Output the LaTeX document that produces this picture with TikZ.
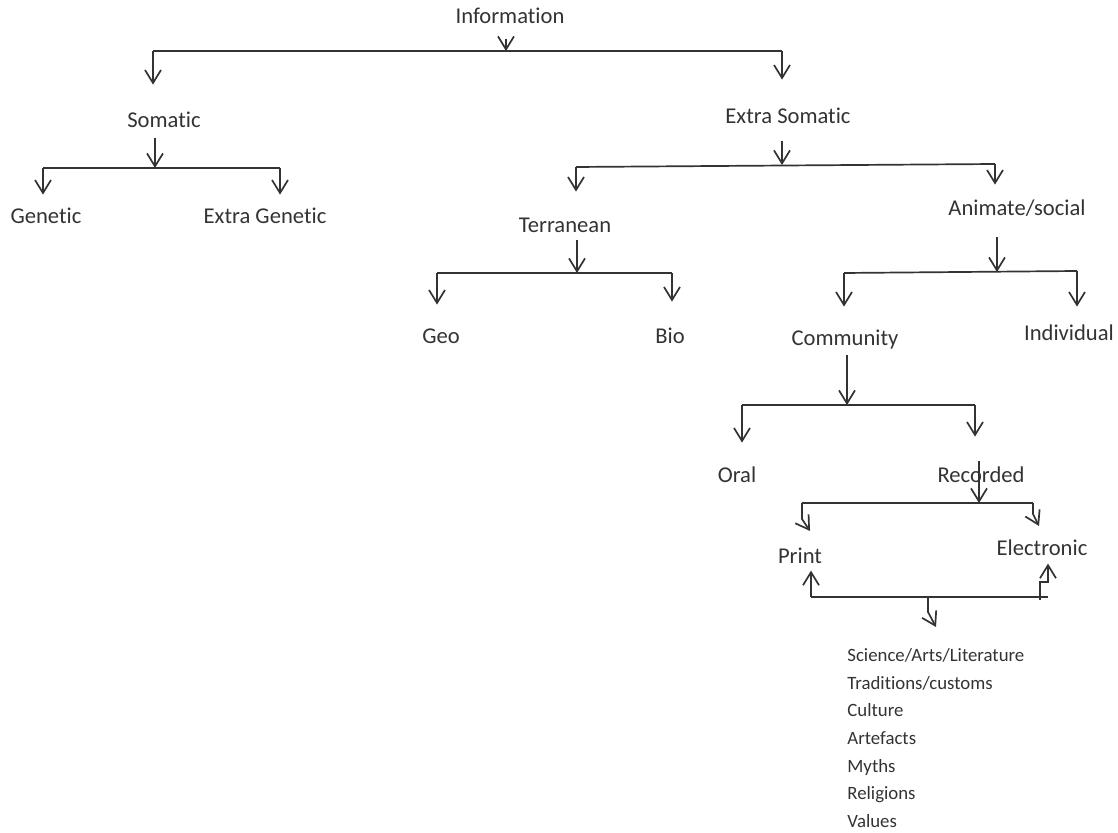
\documentclass[tikz,border=0pt]{standalone}
\usepackage{fontspec}
\setmainfont{Carlito}[Ligatures=CommonOff]
\usepackage{tikz}
\usetikzlibrary{arrows.meta,positioning}
\definecolor{ink}{HTML}{333333}

\begin{document}
\begin{tikzpicture}
 [x=0.5pt,y=-0.5pt,
 term/.style={
  font=\fontsize{11.3}{13}\selectfont,
  text=ink,
  inner sep=0pt,
  text height=7.9pt, % fixed box, so north/south are alike
  text depth=2.3pt},
 itemlist/.style={
  font=\fontsize{9.4}{13.85}\selectfont,
  text=ink,
  inner sep=0pt,
  align=left,
  anchor=north west},
 bar/.style={draw=ink,line width=0.85pt},
 tip/.style={bar,-{Straight Barb[length=6.5pt,width=8pt]}}]
\useasboundingbox (0,0) rectangle (1118,833);
\node (info) [term] at (510,18) {Information};
\node (som) [term] at (164,122) {Somatic};
\node (exsom) [term] at (788,118) {Extra Somatic};
\node (gen) [term] at (46,218) {Genetic};
\node (exgen) [term] at (265,218) {Extra Genetic};
\node (terr) [term] at (565,227) {Terranean};
\node (anim) [term] at (1017,210) {Animate/social};
\node (geo) [term] at (441,338) {Geo};
\node (bio) [term] at (670,338) {Bio};
\node (comm) [term] at (845,340) {Community};
\node (indiv) [term] at (1069,335) {Individual};
\node (oral) [term] at (737,477) {Oral};
\node (rec) [term] at (981,477) {Recorded};
\node (print) [term] at (800,558) {Print};
\node (elec) [term] at (1042,550) {Electronic};
\node (topics) [itemlist] at (847,648) {Science/Arts/Literature\\ Traditions/customs\\ Culture\\ Artefacts\\ Myths\\ Religions\\ Values};
% bars
\coordinate (i0) at (506,51); \coordinate (il) at (153,51); \coordinate (ir) at (782,51);
\coordinate (s0) at (155,168); \coordinate (sl) at (43,168); \coordinate (sr) at (280,168);
\coordinate (e0) at (782,165); \coordinate (el) at (576,167); \coordinate (er) at (995,164);
\coordinate (t0) at (577,273); \coordinate (tl) at (437,273); \coordinate (tr) at (672,273);
\coordinate (a0) at (997,272); \coordinate (al) at (844,273); \coordinate (ar) at (1077,271);
\coordinate (c0) at (847,405); \coordinate (cl) at (742,405); \coordinate (cr) at (975,405);
\coordinate (r0) at (979,503); \coordinate (rl) at (802,503); \coordinate (rr) at (1033,503);
\coordinate (p0) at (928,597); \coordinate (pl) at (811,597); \coordinate (pr) at (1048,597);
\path[bar] (il) -- (ir);
\path[bar] (sl) -- (sr);
\path[bar] (el) -- (er);
\path[bar] (tl) -- (tr);
\path[bar] (al) -- (ar);
\path[bar] (cl) -- (cr);
\path[bar] (rl) -- (rr);
\path[bar] (pl) -- (pr);
% parent to bar
\draw[tip,shorten <=5pt] (i0 |- info.south) -- (i0);
\draw[tip,shorten <=2.5pt] (s0 |- som.south) -- (s0);
\draw[tip,shorten <=6pt] (e0 |- exsom.south) -- (e0);
\draw[tip,shorten <=1.4pt] (t0 |- terr.south) -- (t0);
\draw[tip,shorten <=8.4pt] (a0 |- anim.south) -- (a0);
\draw[tip,shorten <=2.4pt] (c0 |- comm.south) -- (c0);
\draw[tip,shorten <=-2.5pt] (r0 |- rec.north) -- (r0);
% bar to child
\draw[tip,shorten >=13.4pt] (il) -- (il |- som.north);
\draw[tip,shorten >=13.9pt] (ir) -- (ir |- exsom.north);
\draw[tip,shorten >=6.4pt] (sl) -- (sl |- gen.north);
\draw[tip,shorten >=6.4pt] (sr) -- (sr |- exgen.north);
\draw[tip,shorten >=12.4pt] (el) -- (el |- terr.north);
\draw[tip,shorten >=7.4pt] (er) -- (er |- anim.north);
\draw[tip,shorten >=11.4pt] (tl) -- (tl |- geo.north);
\draw[tip,shorten >=12.9pt] (tr) -- (tr |- bio.north);
\draw[tip,shorten >=11.4pt] (al) -- (al |- comm.north);
\draw[tip,shorten >=8.9pt] (ar) -- (ar |- indiv.north);
\draw[tip,shorten >=11.9pt] (cl) -- (cl |- oral.north);
\draw[tip,shorten >=14.9pt] (cr) -- (cr |- rec.north);
% bent ones under Recorded
\coordinate (pk) at (802,519); \coordinate (pt) at (810,531);
\coordinate (ek) at (1033,514); \coordinate (et) at (1039,526);
\draw[tip] (rl) -- (pk) -- (pt);
\draw[tip] (rr) -- (ek) -- (et);
\draw[tip,shorten >=1pt] (pl) -- (pl |- print.south);
\coordinate (eb) at (1040,600); \coordinate (ec) at (1040,582); \coordinate (ed) at (1048,582);
\draw[tip,shorten >=1.5pt] (eb) -- (ec) -- (ed) -- (ed |- elec.south);
\coordinate (lk) at (928,612); \coordinate (lt) at (936,627);
\draw[tip] (p0) -- (lk) -- (lt);
\end{tikzpicture}
\end{document}
